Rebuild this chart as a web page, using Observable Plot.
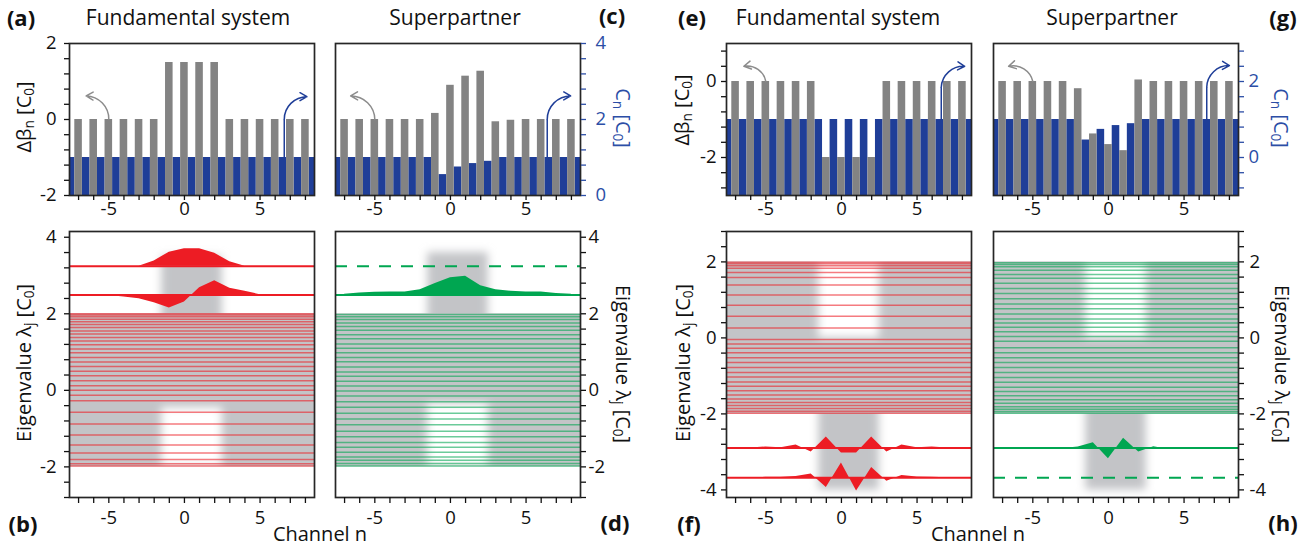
<!DOCTYPE html>
<html>
<head>
<meta charset="utf-8">
<script src="https://cdn.jsdelivr.net/npm/d3@7"></script>
<script src="https://cdn.jsdelivr.net/npm/@observablehq/plot@0.6"></script>
<style>
html, body { margin: 0; padding: 0; background: #fff; }
#fig { position: relative; width: 1313px; height: 546px; overflow: hidden; font-family: "Open Sans", sans-serif; color: #111; }
.t { position: absolute; white-space: nowrap; line-height: 1; }
.t sub { font-size: 0.68em; vertical-align: -0.22em; line-height: 0; }
</style>
</head>
<body>
<svg width="0" height="0" style="position:absolute">
  <defs>
    <filter id="soft" x="-50%" y="-50%" width="200%" height="200%">
      <feGaussianBlur stdDeviation="4.5"/>
    </filter>
  </defs>
</svg>
<div id="fig"></div>
<script>
// ---------------- data ----------------
const channels = [-7, -6, -5, -4, -3, -2, -1, 0, 1, 2, 3, 4, 5, 6, 7, 8];
const links = [-7.5, -6.5, -5.5, -4.5, -3.5, -2.5, -1.5, -0.5, 0.5, 1.5, 2.5, 3.5, 4.5, 5.5, 6.5, 7.5, 8.5];

const xTicks = [-7, -6, -5, -4, -3, -2, -1, 0, 1, 2, 3, 4, 5, 6, 7, 8];
const xLabels = [-5, 0, 5];

// top panels: detuning Δβn (grey, at channels) and coupling Cn (blue, between channels)
const detuningA = [0, 0, 0, 0, 0, 0, 1.5, 1.5, 1.5, 1.5, 0, 0, 0, 0, 0, 0];
const couplingA = [1, 1, 1, 1, 1, 1, 1, 1, 1, 1, 1, 1, 1, 1, 1, 1, 1];
const detuningC = [0, 0, 0, 0, 0, 0, 0.16, 0.9, 1.14, 1.27, -0.06, -0.02, 0, 0, 0, 0];
const couplingC = [1, 1, 1, 1, 1, 1, 1, 0.55, 0.75, 0.84, 0.9, 1, 1, 1, 1, 1, 1];
const detuningE = [0, 0, 0, 0, 0, 0, -2, -2, -2, -2, 0, 0, 0, 0, 0, 0];
const couplingE = [1, 1, 1, 1, 1, 1, 1, 1, 1, 1, 1, 1, 1, 1, 1, 1, 1];
const detuningG = [0, 0, 0, 0, 0, -0.19, -1.38, -1.66, -1.82, 0.04, 0, 0, 0, 0, 0, 0];
const couplingG = [1, 1, 1, 1, 1, 1, 0.46, 0.74, 0.84, 0.89, 1, 1, 1, 1, 1, 1, 1];
const couplingOffset = 2; // Cn axis = Δβn axis + 2

const yTicksA = [-2, -1.6, -1.2, -0.8, -0.4, 0, 0.4, 0.8, 1.2, 1.6, 2];
const yLabelsA = [-2, 0, 2];
const cTicksC = [0, 0.4, 0.8, 1.2, 1.6, 2, 2.4, 2.8, 3.2, 3.6, 4];
const cLabelsC = [0, 2, 4];
const yTicksE = [-2.8, -2.4, -2, -1.6, -1.2, -0.8, -0.4, 0, 0.4, 0.8];
const yLabelsE = [-2, 0];
const cTicksG = [-0.8, -0.4, 0, 0.4, 0.8, 1.2, 1.6, 2, 2.4, 2.8];
const cLabelsG = [0, 2];

// arrows (start on bar, end near label side)
const greyArrowA = [{x: -5, y1: 0, x2: -6.5, y2: 0.62}];
const blueArrowA = [{x: 6.6, y1: -1, ym: 0.0, x2: 8.1, y2: 0.6}];
const greyArrowC = [{x: -5, y1: 0, x2: -6.6, y2: 0.62}];
const blueArrowC = [{x: 6.4, y1: -1, ym: 0.0, x2: 7.95, y2: 0.62}];
const greyArrowE = [{x: -5, y1: 0, x2: -6.45, y2: 0.4}];
const blueArrowE = [{x: 6.6, y1: -1, ym: -0.15, x2: 8.15, y2: 0.4}];
const greyArrowG = [{x: -5, y1: 0, x2: -6.6, y2: 0.4}];
const blueArrowG = [{x: 6.5, y1: -1, ym: -0.15, x2: 8.0, y2: 0.42}];

// bottom panels: eigenvalues
const bulkBand = [-2, 2];
const defectSpan = [-1.5, 2.5];
const localBandB = [-0.45, 3.5];
const localBandD = [-0.35, 3.6];
const localBandF = [-4, 0];
const localBandH = [-4, 0];

const continuumB = [2.0, 1.97, 1.92, 1.86, 1.79, 1.72, 1.64, 1.55, 1.47, 1.38, 1.29, 1.19, 1.08, 0.98, 0.86, 0.74, 0.62, 0.5, 0.38, 0.25, 0.12, 0.0, -0.13, -0.27, -0.57, -0.88, -1.17, -1.43, -1.64, -1.81, -1.92, -1.98];
const continuumD = [1.98, 1.92, 1.85, 1.76, 1.67, 1.57, 1.45, 1.35, 1.21, 1.1, 0.98, 0.86, 0.75, 0.61, 0.48, 0.37, 0.24, 0.11, -0.02, -0.15, -0.3, -0.44, -0.6, -0.75, -0.9, -1.07, -1.21, -1.36, -1.49, -1.62, -1.74, -1.83, -1.91, -1.98];
const continuumF = [1.99, 1.95, 1.9, 1.83, 1.72, 1.59, 1.39, 1.13, 0.86, 0.57, 0.26, -0.04, -0.16, -0.27, -0.39, -0.52, -0.65, -0.78, -0.91, -1.03, -1.16, -1.27, -1.39, -1.5, -1.61, -1.7, -1.78, -1.86, -1.93, -1.98];
const continuumH = [1.98, 1.93, 1.87, 1.78, 1.67, 1.57, 1.44, 1.3, 1.17, 1.03, 0.89, 0.77, 0.63, 0.5, 0.39, 0.28, 0.16, 0.04, -0.09, -0.26, -0.39, -0.52, -0.65, -0.78, -0.91, -1.04, -1.17, -1.3, -1.41, -1.52, -1.63, -1.72, -1.81, -1.88, -1.94, -1.98];

const boundLevelsB = [3.24, 2.49];
const boundProfilesB = [
  [0, 0, 0, 0, 0, 0.14, 0.37, 0.46, 0.46, 0.34, 0.12, 0, 0, 0, 0, 0],
  [0, 0, -0.01, -0.05, -0.1, -0.2, -0.34, -0.18, 0.19, 0.37, 0.18, 0.1, 0.01, 0, 0, 0]
];
const boundLevelsD = [2.49];
const boundProfilesD = [
  [0.02, 0.05, 0.07, 0.08, 0.08, 0.14, 0.3, 0.45, 0.49, 0.24, 0.14, 0.1, 0.08, 0.08, 0.04, 0.02]
];
const removedLevelD = [3.24];
const boundLevelsF = [-2.9, -3.68];
const boundProfilesF = [
  [0, 0, 0.03, 0.01, 0.08, -0.1, 0.29, -0.13, -0.13, 0.29, -0.1, 0.08, 0.01, 0.03, 0, 0],
  [0, 0, 0.01, 0.01, 0.03, 0.1, -0.26, 0.39, -0.35, 0.27, -0.09, 0.06, 0.02, 0.01, 0, 0]
];
const boundLevelsH = [-2.9];
const boundProfilesH = [
  [0, 0, 0, 0, -0.01, 0.03, 0.14, -0.28, 0.26, -0.1, 0.035, -0.04, 0, 0, 0, 0]
];
const removedLevelH = [-3.68];

const yTicksB = [-2.8, -2.4, -2, -1.6, -1.2, -0.8, -0.4, 0, 0.4, 0.8, 1.2, 1.6, 2, 2.4, 2.8, 3.2, 3.6, 4];
const yLabelsB = [-2, 0, 2, 4];
const yTicksF = [-4, -3.6, -3.2, -2.8, -2.4, -2, -1.6, -1.2, -0.8, -0.4, 0, 0.4, 0.8, 1.2, 1.6, 2, 2.4, 2.8];
const yLabelsF = [-4, -2, 0, 2];

const titles = ["Fundamental system", "Superpartner", "Fundamental system", "Superpartner"];
const letters = ["(a)", "(b)", "(c)", "(d)", "(e)", "(f)", "(g)", "(h)"];
const xTitle = "Channel n";

// ---------------- style ----------------
const GREY = "#838383";
const BLUE = "#1f3e98";
const BLUE_TXT = "#2c4ea6";
const ARROW_GREY = "#8c8c8c";
const BAND = "#c3c4c7";
const RED = "#ed1c24";
const GREEN = "#00a651";
const FRAME = "#262626";
const FONT = "'Open Sans', sans-serif";
const TICK_FONT = 18.5;
const xDomain = [-7.6, 8.6];
const FW = 245;

const fig = document.getElementById("fig");
const labelOf = (labels) => (d) => {
  const hit = labels.find((l) => Math.abs(l - d) < 1e-6);
  return hit === undefined ? "" : String(hit);
};

function place(svg, left, top) {
  svg.style.position = "absolute";
  svg.style.left = left + "px";
  svg.style.top = top + "px";
  svg.style.maxWidth = "none";
  fig.appendChild(svg);
}

function topPanel(cfg) {
  const ml = 45, mr = 45, mt = 8, mb = 30, fh = 152;
  const rowsD = channels.map((n, i) => ({n, v: cfg.detuning[i]}));
  const rowsC = links.map((n, i) => ({n, c: cfg.coupling[i] - couplingOffset}));
  const y0 = cfg.yDomain[0];
  const marks = [
    Plot.rect(rowsC, {x1: (d) => d.n - 0.25, x2: (d) => d.n + 0.25, y1: y0, y2: "c", fill: BLUE, clip: true}),
    Plot.rect(rowsD, {x1: (d) => d.n - 0.25, x2: (d) => d.n + 0.25, y1: y0, y2: "v", fill: GREY, clip: true}),
    Plot.arrow(cfg.greyArrow, {x1: "x", y1: "y1", x2: "x2", y2: "y2", bend: -45, stroke: ARROW_GREY, strokeWidth: 1.5, headLength: 8}),
    Plot.link(cfg.blueArrow, {x1: "x", y1: "y1", x2: "x", y2: "ym", stroke: BLUE, strokeWidth: 1.5}),
    Plot.arrow(cfg.blueArrow, {x1: "x", y1: "ym", x2: "x2", y2: "y2", bend: 45, stroke: BLUE, strokeWidth: 1.5, headLength: 8}),
    Plot.frame({stroke: FRAME, strokeWidth: 1.7}),
    Plot.axisX({ticks: xTicks, tickFormat: labelOf(xLabels), tickSize: 5, tickPadding: 1, fontSize: TICK_FONT, label: null, strokeWidth: 1.3})
  ];
  if (cfg.leftTicks) {
    marks.push(Plot.axisY({anchor: "left", ticks: cfg.leftTicks, tickFormat: labelOf(cfg.leftLabels), tickSize: 5, tickPadding: cfg.pad, fontSize: TICK_FONT, label: null, strokeWidth: 1.3}));
  }
  if (cfg.rightTicks) {
    const f = labelOf(cfg.rightLabels);
    marks.push(Plot.axisY({anchor: "right", ticks: cfg.rightTicks.map((c) => c - couplingOffset), tickFormat: (d) => f(d + couplingOffset), tickSize: 5, tickPadding: cfg.pad, fontSize: TICK_FONT, label: null, strokeWidth: 1.3, color: BLUE_TXT}));
  }
  const svg = Plot.plot({
    width: FW + ml + mr, height: fh + mt + mb,
    marginLeft: ml, marginRight: mr, marginTop: mt, marginBottom: mb,
    x: {domain: xDomain}, y: {domain: cfg.yDomain},
    style: {background: "transparent", overflow: "visible", fontFamily: FONT, color: "#111"},
    marks
  });
  place(svg, cfg.left - ml, 43 - mt);
}

function bottomPanel(cfg) {
  const ml = 45, mr = 45, mt = 8, mb = 34, fh = 266;
  const [bLo, bHi] = bulkBand;
  const [lLo, lHi] = cfg.localBand;
  const holes = [], ext = [];
  if (lLo > bLo) holes.push({y1: bLo, y2: lLo});
  if (lHi < bHi) holes.push({y1: lHi, y2: bHi});
  if (lHi > bHi) ext.push({y1: bHi - 0.3, y2: lHi});
  if (lLo < bLo) ext.push({y1: lLo, y2: bLo + 0.3});
  const [s1, s2] = defectSpan;
  const marks = [
    Plot.rect([bulkBand], {y1: (d) => d[0], y2: (d) => d[1], fill: BAND}),
    Plot.rect(holes, {x1: s1, x2: s2, y1: "y1", y2: "y2", fill: "white", clip: true, shapeRendering: "geometricPrecision"}),
    Plot.rect(ext, {x1: s1, x2: s2, y1: "y1", y2: "y2", fill: BAND, clip: true, shapeRendering: "geometricPrecision"}),
    Plot.ruleY(cfg.continuum, {stroke: cfg.color, strokeOpacity: 0.58, strokeWidth: 1.5})
  ];
  cfg.bound.forEach((lev, k) => {
    const rows = channels.map((n, i) => ({n, y: lev + cfg.profiles[k][i]}));
    marks.push(Plot.areaY(rows, {x: "n", y1: lev, y2: "y", fill: cfg.color}));
  });
  marks.push(Plot.ruleY(cfg.bound, {stroke: cfg.color, strokeWidth: 2}));
  if (cfg.removed) marks.push(Plot.ruleY(cfg.removed, {stroke: cfg.color, strokeWidth: 2, strokeDasharray: "12,10"}));
  marks.push(Plot.frame({stroke: FRAME, strokeWidth: 1.7}));
  marks.push(Plot.axisX({ticks: xTicks, tickFormat: labelOf(xLabels), tickSize: 6, tickPadding: 7, fontSize: TICK_FONT, label: null, strokeWidth: 1.3}));
  marks.push(Plot.axisY({anchor: cfg.anchor, ticks: cfg.yTicks, tickFormat: labelOf(cfg.yLabels), tickSize: 5, tickPadding: cfg.pad, fontSize: TICK_FONT, label: null, strokeWidth: 1.3}));
  const svg = Plot.plot({
    width: FW + ml + mr, height: fh + mt + mb,
    marginLeft: ml, marginRight: mr, marginTop: mt, marginBottom: mb,
    x: {domain: xDomain}, y: {domain: cfg.yDomain},
    style: {background: "transparent", overflow: "visible", fontFamily: FONT, color: "#111"},
    marks
  });
  svg.querySelectorAll('g[shape-rendering="geometricPrecision"]').forEach((g) => g.setAttribute("filter", "url(#soft)"));
  place(svg, cfg.left - ml, 231 - mt);
}

// ---------------- panels ----------------
topPanel({left: 68.5, detuning: detuningA, coupling: couplingA, yDomain: [-2, 2], leftTicks: yTicksA, leftLabels: yLabelsA, pad: 8, greyArrow: greyArrowA, blueArrow: blueArrowA});
topPanel({left: 335, detuning: detuningC, coupling: couplingC, yDomain: [-2, 2], rightTicks: cTicksC, rightLabels: cLabelsC, pad: 10, greyArrow: greyArrowC, blueArrow: blueArrowC});
topPanel({left: 726, detuning: detuningE, coupling: couplingE, yDomain: [-3, 1], leftTicks: yTicksE, leftLabels: yLabelsE, pad: 5, greyArrow: greyArrowE, blueArrow: blueArrowE});
topPanel({left: 993, detuning: detuningG, coupling: couplingG, yDomain: [-3, 1], rightTicks: cTicksG, rightLabels: cLabelsG, pad: 5, greyArrow: greyArrowG, blueArrow: blueArrowG});

bottomPanel({left: 68.5, yDomain: [-2.8, 4.15], localBand: localBandB, continuum: continuumB, bound: boundLevelsB, profiles: boundProfilesB, color: RED, anchor: "left", yTicks: yTicksB, yLabels: yLabelsB, pad: 8});
bottomPanel({left: 335, yDomain: [-2.8, 4.15], localBand: localBandD, continuum: continuumD, bound: boundLevelsD, profiles: boundProfilesD, removed: removedLevelD, color: GREEN, anchor: "right", yTicks: yTicksB, yLabels: yLabelsB, pad: 3});
bottomPanel({left: 726, yDomain: [-4.2, 2.8], localBand: localBandF, continuum: continuumF, bound: boundLevelsF, profiles: boundProfilesF, color: RED, anchor: "left", yTicks: yTicksF, yLabels: yLabelsF, pad: 5});
bottomPanel({left: 993, yDomain: [-4.2, 2.8], localBand: localBandH, continuum: continuumH, bound: boundLevelsH, profiles: boundProfilesH, removed: removedLevelH, color: GREEN, anchor: "right", yTicks: yTicksF, yLabels: yLabelsF, pad: 6});

// ---------------- text ----------------
function addText(html, x, y, opt = {}) {
  const d = document.createElement("div");
  d.className = "t";
  d.innerHTML = html;
  d.style.left = x + "px";
  d.style.top = y + "px";
  d.style.fontSize = (opt.size || 20) + "px";
  d.style.fontWeight = opt.weight || 400;
  d.style.color = opt.color || "#111";
  d.style.transform = `translate(-50%, -50%) rotate(${opt.rotate || 0}deg)`;
  fig.appendChild(d);
}
addText(titles[0], 188, 17, {size: 21});
addText(titles[1], 455, 17, {size: 21});
addText(titles[2], 838, 17, {size: 21});
addText(titles[3], 1112, 17, {size: 21});
addText(letters[0], 21, 17, {size: 22, weight: 700});
addText(letters[2], 612, 15, {size: 22, weight: 700});
addText(letters[4], 692, 17, {size: 22, weight: 700});
addText(letters[6], 1283, 17, {size: 22, weight: 700});
addText(letters[1], 23, 523, {size: 22, weight: 700});
addText(letters[3], 615, 522, {size: 22, weight: 700});
addText(letters[5], 689, 523, {size: 22, weight: 700});
addText(letters[7], 1283, 522, {size: 22, weight: 700});
addText(xTitle, 320, 534, {size: 20});
addText(xTitle, 978, 534, {size: 20});
const betaLabel = "Δβ<sub>n</sub> [C<sub>0</sub>]";
const cLabel = "C<sub>n</sub> [C<sub>0</sub>]";
const eigLabel = "Eigenvalue λ<sub>j</sub> [C<sub>0</sub>]";
addText(betaLabel, 24, 117, {size: 20, rotate: -90});
addText(betaLabel, 682, 110, {size: 20, rotate: -90});
addText(cLabel, 623, 118, {size: 20, rotate: 90, color: BLUE_TXT});
addText(cLabel, 1281, 118, {size: 20, rotate: 90, color: BLUE_TXT});
addText(eigLabel, 24, 363, {size: 20, rotate: -90});
addText(eigLabel, 683, 363, {size: 20, rotate: -90});
addText(eigLabel, 623, 364, {size: 20, rotate: 90});
addText(eigLabel, 1282, 364, {size: 20, rotate: 90});
</script>
</body>
</html>
